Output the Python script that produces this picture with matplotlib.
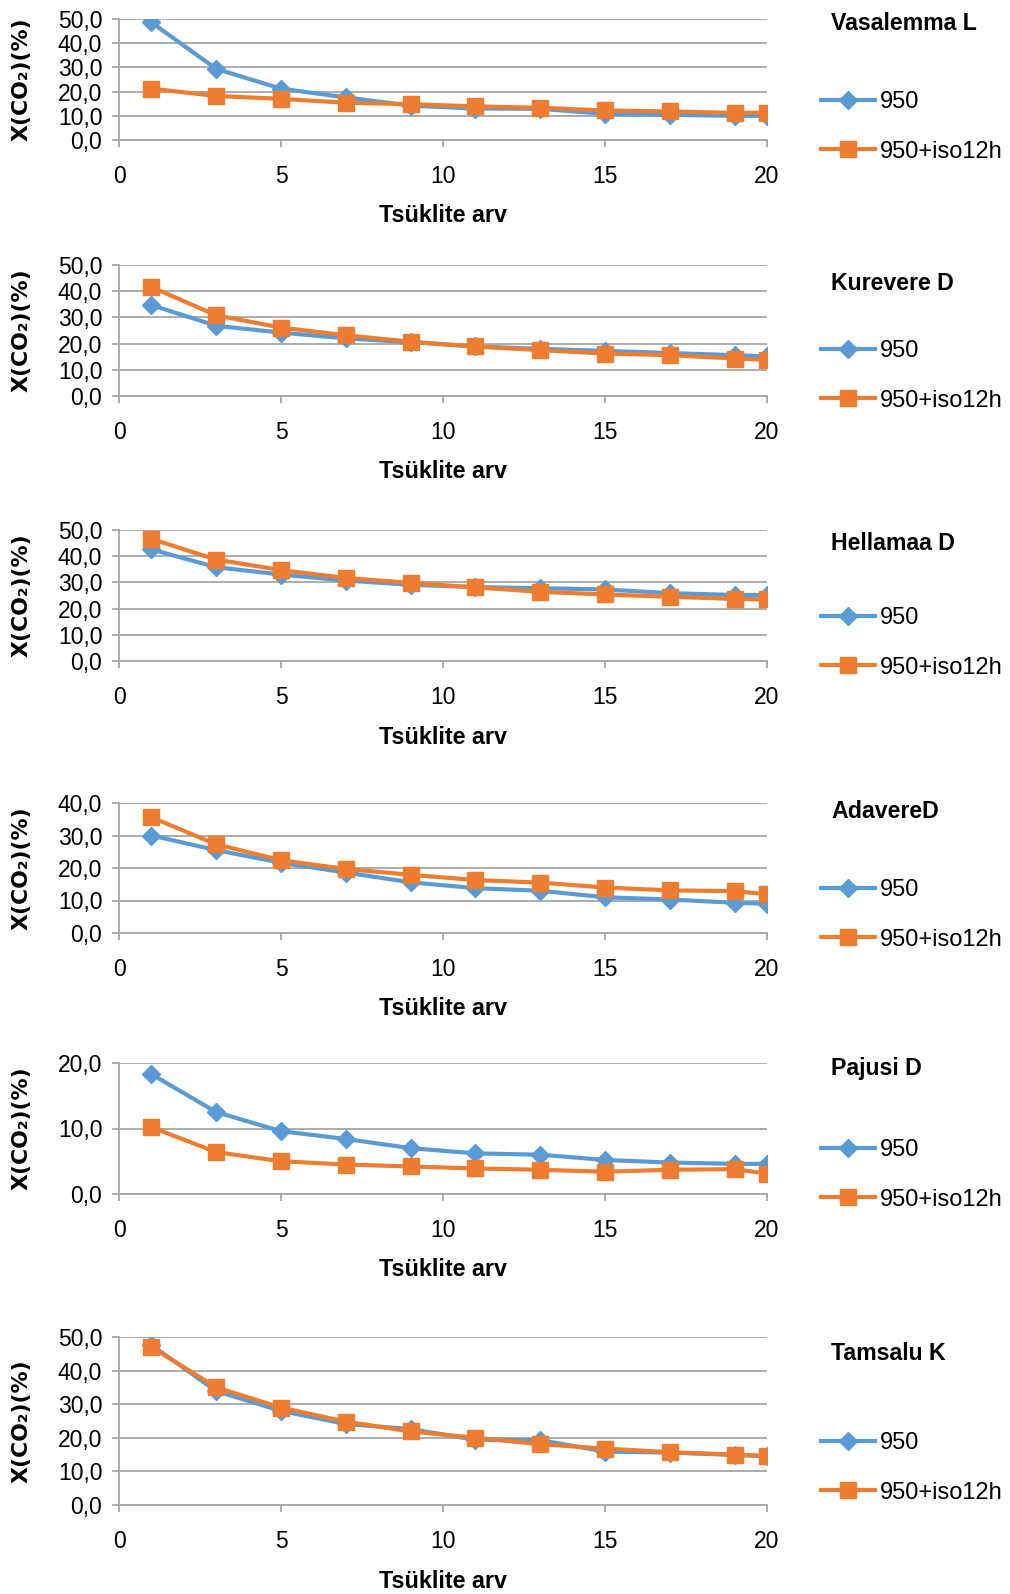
import numpy as np
import matplotlib
matplotlib.use("Agg")
import matplotlib.pyplot as plt
from matplotlib.ticker import FuncFormatter

# ---- data ----
cycles = [1, 3, 5, 7, 9, 11, 13, 15, 17, 19, 20]
series_names = ["950", "950+iso12h"]
sites = ["Vasalemma L", "Kurevere D", "Hellamaa D", "AdavereD", "Pajusi D", "Tamsalu K"]

vasalemma_950 = [48.6, 29.4, 21.2, 17.6, 14.2, 13.0, 12.9, 10.8, 10.4, 10.0, 10.0]
vasalemma_iso = [21.2, 18.2, 17.0, 15.4, 14.8, 13.9, 13.3, 12.2, 11.8, 11.2, 11.3]
kurevere_950 = [34.7, 26.8, 24.2, 22.0, 20.5, 18.9, 18.0, 17.2, 16.4, 15.6, 15.1]
kurevere_iso = [41.6, 30.8, 26.1, 23.2, 20.7, 18.9, 17.5, 16.2, 15.6, 14.3, 13.9]
hellamaa_950 = [42.6, 35.8, 33.0, 30.7, 29.1, 28.2, 27.8, 27.3, 25.9, 25.2, 25.2]
hellamaa_iso = [46.6, 38.7, 34.7, 31.7, 29.8, 28.1, 26.4, 25.4, 24.5, 23.7, 23.5]
adavere_950 = [30.0, 25.5, 21.6, 18.6, 15.6, 13.8, 13.0, 11.0, 10.3, 9.3, 9.0]
adavere_iso = [35.6, 27.3, 22.4, 19.7, 17.9, 16.3, 15.5, 14.0, 13.1, 12.9, 11.9]
pajusi_950 = [18.3, 12.5, 9.6, 8.4, 7.0, 6.2, 6.0, 5.2, 4.8, 4.6, 4.6]
pajusi_iso = [10.2, 6.4, 5.0, 4.5, 4.2, 3.9, 3.7, 3.4, 3.7, 3.8, 3.1]
tamsalu_950 = [47.6, 33.9, 28.0, 24.1, 22.6, 19.4, 19.3, 15.9, 15.6, 14.9, 14.5]
tamsalu_iso = [47.0, 35.0, 29.0, 24.8, 21.9, 20.0, 18.1, 16.8, 15.7, 15.0, 14.6]

y_max = [50, 50, 50, 40, 20, 50]
y_step = [10, 10, 10, 10, 10, 10]

values_950 = [vasalemma_950, kurevere_950, hellamaa_950, adavere_950, pajusi_950, tamsalu_950]
values_iso = [vasalemma_iso, kurevere_iso, hellamaa_iso, adavere_iso, pajusi_iso, tamsalu_iso]

# ---- layout (pixels in the 1010x1594 picture) ----
W, H = 1010, 1594
ax_left, ax_right = 119, 767
ax_tops = [19, 265, 530, 803, 1063, 1337]
ax_bottoms = [140, 396, 661, 933, 1194, 1505]
title_y = [24, 284, 543, 812, 1068, 1353]
legend_y = [127, 376, 643, 915, 1175, 1468]

plt.rcParams['font.family'] = ['Liberation Sans', 'DejaVu Sans']

BLUE = "#5B9BD5"
ORANGE = "#ED7D31"
GRID = "#A6A6A6"

fig = plt.figure(figsize=(W / 100, H / 100), dpi=100)

comma = FuncFormatter(lambda v, p: ("%.1f" % v).replace(".", ","))

for i in range(len(sites)):
    top, bot = ax_tops[i], ax_bottoms[i]
    ax = fig.add_axes([ax_left / W, 1 - bot / H, (ax_right - ax_left) / W, (bot - top) / H])
    ax.plot(cycles, values_950[i], color=BLUE, lw=3, marker="D", ms=9, label=series_names[0],
            zorder=3)
    ax.plot(cycles, values_iso[i], color=ORANGE, lw=3, marker="s", ms=11, label=series_names[1],
            zorder=4)
    ax.set_xlim(0, 20)
    ax.set_ylim(0, y_max[i])
    ax.set_xticks([0, 5, 10, 15, 20])
    ax.set_yticks(np.arange(0, y_max[i] + 0.1, y_step[i]))
    ax.yaxis.set_major_formatter(comma)
    ax.grid(axis="y", color=GRID, lw=1.3)
    ax.set_axisbelow(True)
    for s in ["top", "right"]:
        ax.spines[s].set_visible(False)
    for s in ["left", "bottom"]:
        ax.spines[s].set_color(GRID)
        ax.spines[s].set_linewidth(1.3)
    ax.tick_params(axis="both", colors=GRID, labelcolor="black", labelsize=16.5, length=5, width=1.3)
    ax.tick_params(axis="x", pad=13)
    ax.tick_params(axis="y", pad=7)

    # axis titles
    fig.text(ax_left / W - 97 / W, 1 - (top + bot) / 2 / H, "X(CO₂)(%)", rotation=90,
             ha="center", va="center", fontsize=15.8, fontweight="bold", family="DejaVu Sans")
    fig.text((ax_left + ax_right) / 2 / W, 1 - (bot + 76) / H, "Tsüklite arv",
             ha="center", va="center", fontsize=16.8, fontweight="bold")
    # site name
    fig.text(831 / W, 1 - title_y[i] / H, sites[i], ha="left", va="center",
             fontsize=16.7, fontweight="bold")
    ax.legend(loc="center left", bbox_to_anchor=(821 / W, 1 - legend_y[i] / H),
              bbox_transform=fig.transFigure, frameon=False, fontsize=17,
              borderpad=0, borderaxespad=0, handlelength=2.3, handletextpad=0.2,
              labelspacing=1.15)

fig.savefig("out.png", dpi=100)
